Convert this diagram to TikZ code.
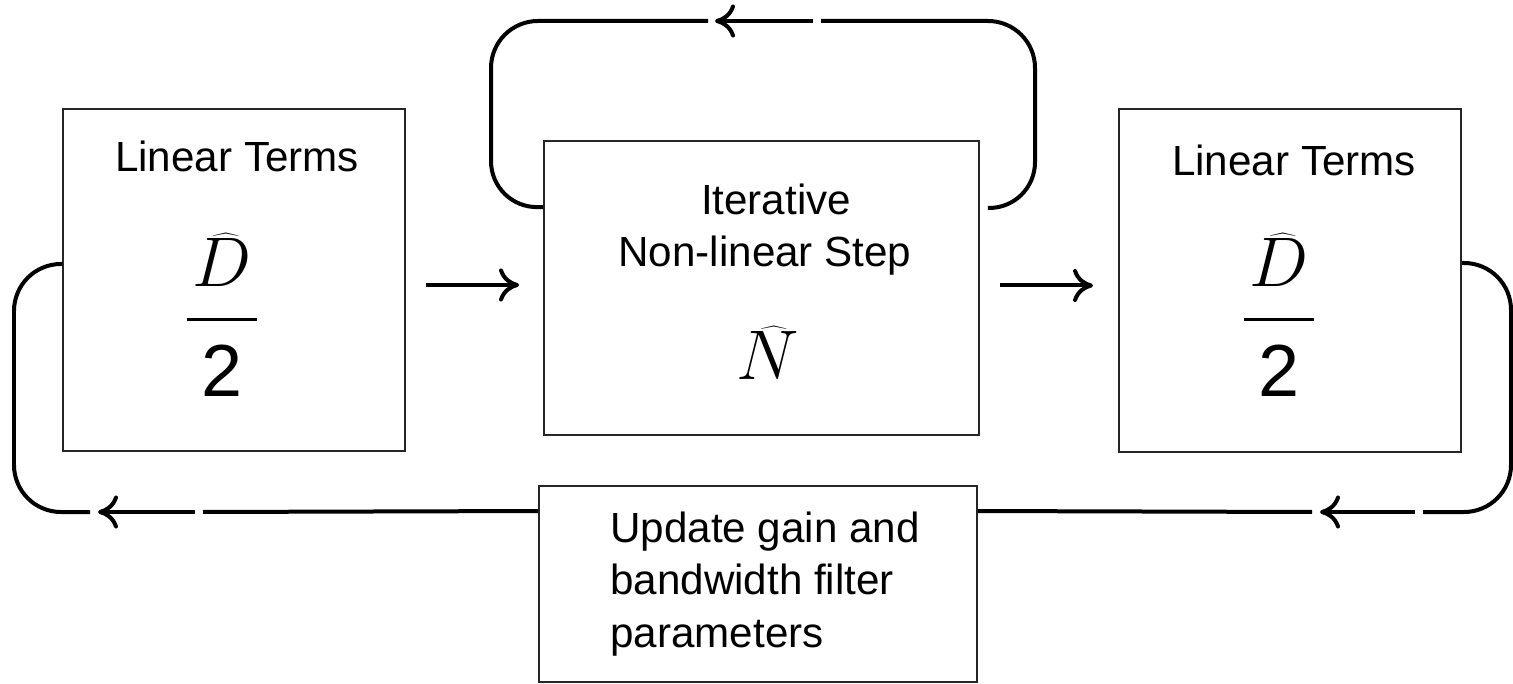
\RequirePackage{fix-cm}
\documentclass[tikz,border=0pt]{standalone}
\usepackage{fontspec}
\setmainfont{Liberation Sans}
\usetikzlibrary{arrows.meta}

\begin{document}
\begin{tikzpicture}[
    x=0.02cm, y=0.02cm,
    box/.style={draw=black!85, line width=0.04cm, inner sep=0pt},
    lbl/.style={font=\fontsize{24}{29.6}\selectfont, inner sep=0pt, anchor=base},
    sym/.style={font=\fontsize{40}{48}\selectfont, inner sep=0pt, anchor=base},
    num/.style={font=\fontsize{42}{50}\selectfont, inner sep=0pt, anchor=base},
    bar/.style={fill=black, minimum width=1.4cm, minimum height=0.06cm, inner sep=0pt},
    wire/.style={line width=0.08cm, rounded corners=0.94cm},
    arr/.style={-{To[length=4mm, width=6.6mm]}, line width=0.08cm}
]
\useasboundingbox (0,0) rectangle (1513,683);

% boxes
\node[box, minimum width=6.84cm, minimum height=6.84cm] (lin1) at (234,403) {};
\node[box, minimum width=8.7cm, minimum height=5.88cm] (iter) at (761.5,395) {};
\node[box, minimum width=6.84cm, minimum height=6.86cm] (lin2) at (1290,402.5) {};
\node[box, minimum width=8.76cm, minimum height=3.92cm] (upd) at (758,99) {};

% left linear terms
\node[lbl] (lin1t) at (237,511) {Linear Terms};
\node[sym] (lin1d) at (222,396) {$\widehat{D}$};
\node[bar] (lin1b) at (222,363) {};
\node[num] (lin1n) at (222,286) {2};

% non-linear step
\node[lbl] (itert) at (776,468) {Iterative};
\node[lbl] (iters) at (765,416) {Non-linear Step};
\node[sym] (itern) at (768,303) {$\widehat{N}$};

% right linear terms
\node[lbl] (lin2t) at (1294,507) {Linear Terms};
\node[sym] (lin2d) at (1279,396) {$\widehat{D}$};
\node[bar] (lin2b) at (1279,363) {};
\node[num] (lin2n) at (1279,286) {2};

% update box (base = last line)
\node[lbl, anchor=base west, align=left] (updt) at (610,36) {Update gain and\\bandwidth filter\\parameters};

% forward arrows
\draw[arr, shorten <=0.4cm, shorten >=0.48cm] ([yshift=-0.1cm]lin1.east) -- ([yshift=-0.1cm]lin1.east -| iter.west);
\draw[arr, shorten <=0.4cm, shorten >=0.5cm] ([yshift=-0.1cm]lin2.west -| iter.east) -- ([yshift=-0.1cm]lin2.west);

% iteration loop on top
\coordinate (topR) at ([xshift=0.18cm, yshift=-1.36cm]iter.north east);
\coordinate (topL) at ([yshift=-1.34cm]iter.north west);
\draw[wire] (topR) -- (1035,474) -- (1035,662) -- (821,662);
\draw[arr] (813,662) -- (715,662);
\draw[wire] (708,662) -- (491,662) -- (491,475) -- (topL);

% feedback loop underneath
\draw[wire] ([yshift=0.35cm]lin2.east) -- (1511,420) -- (1511,171) -- (1423,171);
\draw[arr] (1415,171) -- (1320,171);
\draw[wire] (1312,171) -- ([yshift=-0.52cm]upd.north east);
\draw[wire] ([yshift=-0.52cm]upd.north west) -- (203,171);
\draw[arr] (195,171) -- (98,171);
\draw[wire] (90,171) -- (14,171) -- (14,419) -- ([yshift=0.32cm]lin1.west);
\end{tikzpicture}
\end{document}
